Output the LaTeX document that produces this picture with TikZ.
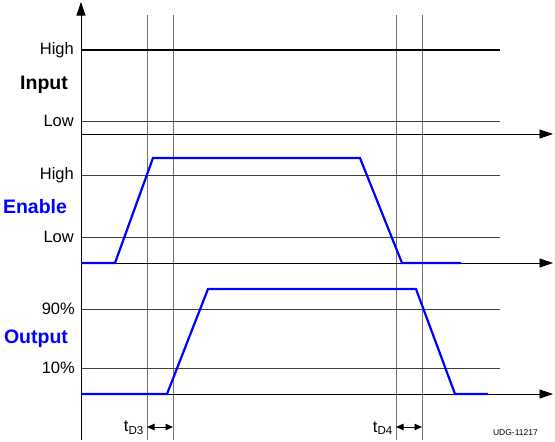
\documentclass[tikz,border=0pt]{standalone}
\usepackage{fontspec}
\setmainfont{Liberation Sans}
\usetikzlibrary{arrows.meta}
\begin{document}
\begin{tikzpicture}[x=1pt,y=-1pt,
  grid/.style={draw=black!55,line width=0.8pt},
  level/.style={draw=black!75,line width=0.8pt},
  axis/.style={draw=black,line width=0.8pt,-{Triangle[length=13.5pt,width=9pt]}},
  wave/.style={draw=blue,line width=2.2pt,line join=miter},
  lvl/.style={font=\fontsize{16.5}{18}\selectfont,anchor=east,inner sep=0pt},
  sig/.style={font=\fontsize{19.5}{22}\selectfont\bfseries,inner sep=0pt},
  dly/.style={draw=black,line width=0.8pt,{Triangle[length=7.5pt,width=6.5pt]}-{Triangle[length=7.5pt,width=6.5pt]}},
  tlab/.style={font=\fontsize{16.5}{18}\selectfont,anchor=east,inner sep=0pt}]
\useasboundingbox (0,0) rectangle (555,442);
% vertical time markers
\coordinate (v1t) at (147,15); \coordinate (v1b) at (147,440);
\coordinate (v2t) at (173,15); \coordinate (v2b) at (173,440);
\coordinate (v3t) at (396,15); \coordinate (v3b) at (396,440);
\coordinate (v4t) at (422,15); \coordinate (v4b) at (422,440);
\draw[grid] (v1t) -- (v1b);
\draw[grid] (v2t) -- (v2b);
\draw[grid] (v3t) -- (v3b);
\draw[grid] (v4t) -- (v4b);
% level lines
\coordinate (iLl) at (81,121); \coordinate (iLr) at (500,121);
\coordinate (eHl) at (81,175); \coordinate (eHr) at (500,175);
\coordinate (eLl) at (81,237); \coordinate (eLr) at (500,237);
\coordinate (o9l) at (81,309); \coordinate (o9r) at (500,309);
\coordinate (o1l) at (81,368); \coordinate (o1r) at (500,368);
\draw[level] (iLl) -- (iLr);
\draw[level] (eHl) -- (eHr);
\draw[level] (eLl) -- (eLr);
\draw[level] (o9l) -- (o9r);
\draw[level] (o1l) -- (o1r);
% axes
\coordinate (yb) at (81,440); \coordinate (yt) at (81,2);
\draw[axis] (yb) -- (yt);
\coordinate (ia0) at (81,134); \coordinate (ia1) at (553,134);
\coordinate (ea0) at (81,263); \coordinate (ea1) at (553,263);
\coordinate (oa0) at (81,394); \coordinate (oa1) at (553,394);
\draw[axis] (ia0) -- (ia1);
\draw[axis] (ea0) -- (ea1);
\draw[axis] (oa0) -- (oa1);
% input high line
\coordinate (iH0) at (81,50); \coordinate (iH1) at (500,50);
\draw[black,line width=2pt] (iH0) -- (iH1);
% enable waveform
\coordinate (e0) at (81,263); \coordinate (e1) at (115,263);
\coordinate (e2) at (153,158); \coordinate (e3) at (360,158);
\coordinate (e4) at (402,263); \coordinate (e5) at (461,263);
\draw[wave] (e0) -- (e1) -- (e2) -- (e3) -- (e4) -- (e5);
% output waveform
\coordinate (o0) at (81,394); \coordinate (o1) at (167,394);
\coordinate (o2) at (208,289); \coordinate (o3) at (416,289);
\coordinate (o4) at (455,394); \coordinate (o5) at (488,394);
\draw[wave] (o0) -- (o1) -- (o2) -- (o3) -- (o4) -- (o5);
% labels
\node[lvl] (lHi) at (74,50) {High};
\node[sig] (lIn) at (44,85) {Input};
\node[lvl] (lLo) at (74,121) {Low};
\node[lvl] (lEH) at (74,175) {High};
\node[sig,text=blue] (lEn) at (35,207) {Enable};
\node[lvl] (lEL) at (74,237) {Low};
\node[lvl] (l90) at (75,309) {90\%};
\node[sig,text=blue] (lOut) at (36,339) {Output};
\node[lvl] (l10) at (75,368) {10\%};
% delays
\coordinate (d3a) at (147,427); \coordinate (d3b) at (173,427);
\coordinate (d4a) at (396,427); \coordinate (d4b) at (422,427);
\draw[dly] (d3a) -- (d3b);
\draw[dly] (d4a) -- (d4b);
\node[tlab] (tD3) at (144,428) {t\textsubscript{D3}};
\node[tlab] (tD4) at (393,428) {t\textsubscript{D4}};
\node[font=\fontsize{8.5}{10}\selectfont,anchor=east,inner sep=0pt] (udg) at (538,433) {UDG-11217};
\end{tikzpicture}
\end{document}
